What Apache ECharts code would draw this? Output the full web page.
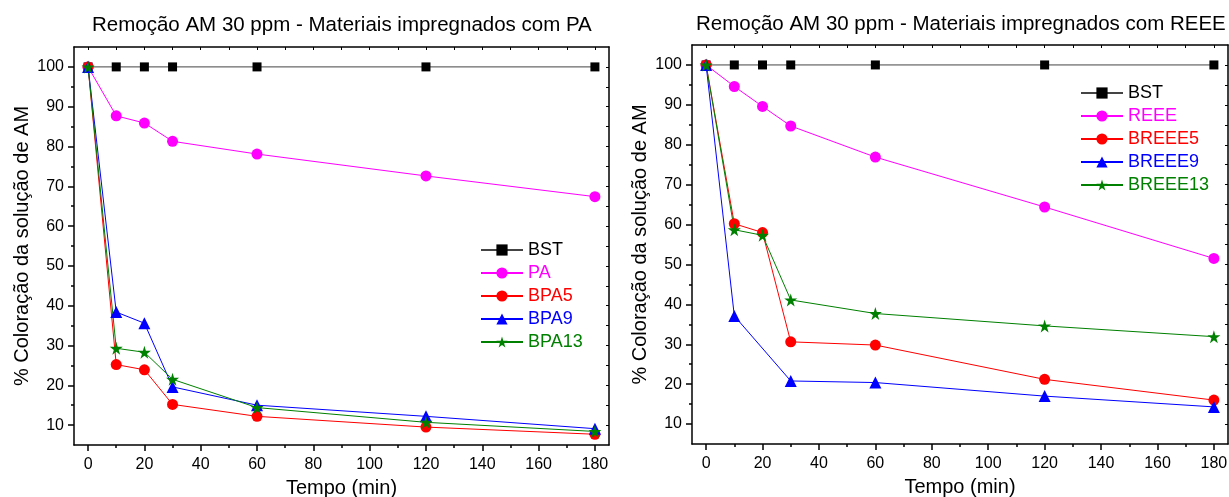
<!DOCTYPE html>
<html>
<head>
<meta charset="utf-8">
<script src="https://cdn.jsdelivr.net/npm/echarts@6/dist/echarts.min.js"></script>
<style>
  html, body { margin: 0; padding: 0; background: #fff; }
  #main { width: 1229px; height: 497px; }
</style>
</head>
<body>
<div id="main"></div>
<script>
// sampling times (min), shared by both panels
const times = [0, 10, 20, 30, 60, 120, 180]
const xLabels = [0, 20, 40, 60, 80, 100, 120, 140, 160, 180]
const yLabels = [10, 20, 30, 40, 50, 60, 70, 80, 90, 100]

// left panel - PA
const bstPA = [100, 100, 100, 100, 100, 100, 100]
const pa = [100, 87.7, 85.9, 81.3, 78.1, 72.6, 67.4]
const bpa5 = [100, 25.2, 23.9, 15.2, 12.2, 9.5, 7.7]
const bpa9 = [100, 38.4, 35.6, 19.6, 15.0, 12.2, 9.1]
const bpa13 = [100, 29.3, 28.3, 21.5, 14.4, 10.7, 8.4]

// right panel - REEE (BREEE9 has no 20 min point)
const bstREEE = [100, 100, 100, 100, 100, 100, 100]
const reee = [100, 94.6, 89.6, 84.7, 76.9, 64.4, 51.5]
const breee5 = [100, 60.2, 58.0, 30.6, 29.8, 21.2, 16.0]
const breee9 = [100, 37.1, null, 20.8, 20.4, 17.0, 14.3]
const breee13 = [100, 58.7, 57.3, 41.1, 37.7, 34.6, 31.9]

const STAR = 'path://M50,0 L61,35 L98,35 L68,57 L79,91 L50,70 L21,91 L32,57 L2,35 L39,35 Z'
const FONT = 'Liberation Sans'

function pairs(vals) {
  return times.map(function (t, i) { return [t, vals[i]] })
    .filter(function (p) { return p[1] != null })
}

function line(name, vals, color, lineColor, symbol, size, idx) {
  return {
    name: name,
    type: 'line',
    xAxisIndex: idx * 3,
    yAxisIndex: idx * 3,
    data: pairs(vals),
    symbol: symbol,
    symbolSize: size,
    connectNulls: true,
    itemStyle: { color: color },
    lineStyle: { color: lineColor, width: 1 },
    z: 3
  }
}

// 3 x axes per grid: main bottom, minor ticks, top border
function xAxes(gi) {
  const base = { gridIndex: gi, type: 'value', min: -5, max: 185, splitLine: { show: false } }
  return [
    Object.assign({}, base, {
      position: 'bottom',
      name: 'Tempo (min)',
      nameLocation: 'middle',
      nameGap: 33,
      nameTextStyle: { fontFamily: FONT, fontSize: 20, color: '#000' },
      axisLine: { onZero: false, lineStyle: { color: '#000', width: 1.5 } },
      axisTick: { customValues: xLabels, length: 6, lineStyle: { color: '#000', width: 1.5 } },
      axisLabel: { customValues: xLabels, margin: 12, fontFamily: FONT, fontSize: 16, color: '#000' }
    }),
    Object.assign({}, base, {
      position: 'bottom',
      axisLine: { show: false, onZero: false },
      axisTick: { customValues: [10, 30, 50, 70, 90, 110, 130, 150, 170], length: 3, lineStyle: { color: '#000', width: 1.5 } },
      axisLabel: { show: false }
    }),
    Object.assign({}, base, {
      position: 'top',
      axisLine: { onZero: false, lineStyle: { color: '#000', width: 1.5 } },
      axisTick: { inside: true, customValues: [0, 10, 20, 30, 40, 50, 60, 70, 80, 90, 100, 110, 120, 130, 140, 150, 160, 170, 180], length: 3, lineStyle: { color: '#000' } },
      axisLabel: { show: false }
    })
  ]
}

function yAxes(gi) {
  const base = { gridIndex: gi, type: 'value', min: 5, max: 105, splitLine: { show: false } }
  return [
    Object.assign({}, base, {
      position: 'left',
      name: '% Coloração da solução de AM',
      nameLocation: 'middle',
      nameGap: 42,
      nameTextStyle: { fontFamily: FONT, fontSize: 20, color: '#000' },
      axisLine: { onZero: false, lineStyle: { color: '#000', width: 1.5 } },
      axisTick: { customValues: yLabels, length: 6, lineStyle: { color: '#000', width: 1.5 } },
      axisLabel: { customValues: yLabels, margin: 10, fontFamily: FONT, fontSize: 16, color: '#000' }
    }),
    Object.assign({}, base, {
      position: 'left',
      axisLine: { show: false, onZero: false },
      axisTick: { customValues: [15, 25, 35, 45, 55, 65, 75, 85, 95], length: 3, lineStyle: { color: '#000', width: 1.5 } },
      axisLabel: { show: false }
    }),
    Object.assign({}, base, {
      position: 'right',
      axisLine: { onZero: false, lineStyle: { color: '#000', width: 1.5 } },
      axisTick: { inside: true, customValues: [10, 15, 20, 25, 30, 35, 40, 45, 50, 55, 60, 65, 70, 75, 80, 85, 90, 95, 100], length: 3, lineStyle: { color: '#000' } },
      axisLabel: { show: false }
    })
  ]
}

function legend(names, colors, left, top) {
  return {
    orient: 'vertical',
    left: left,
    top: top,
    itemWidth: 42,
    itemHeight: 14,
    itemGap: 5,
    textStyle: { fontFamily: FONT, fontSize: 18, lineHeight: 18 },
    data: names.map(function (n, i) {
      return { name: n, textStyle: { color: colors[i], fontSize: 18, lineHeight: 18 } }
    })
  }
}

const colors = ['#000', '#ff00ff', '#ff0000', '#0000ff', '#008000']

const option = {
  backgroundColor: '#fff',
  animation: false,
  title: [
    { text: 'Remoção AM 30 ppm - Materiais impregnados com PA', left: 87, top: 10,
      textStyle: { fontFamily: FONT, fontSize: 20.5, fontWeight: 'normal', color: '#000' } },
    { text: 'Remoção AM 30 ppm - Materiais impregnados com REEE', left: 691, top: 9,
      textStyle: { fontFamily: FONT, fontSize: 20.5, fontWeight: 'normal', color: '#000' } }
  ],
  legend: [
    legend(['BST', 'PA', 'BPA5', 'BPA9', 'BPA13'], colors, 475, 236),
    legend(['BST', 'REEE', 'BREEE5', 'BREEE9', 'BREEE13'], colors, 1075, 79)
  ],
  // outerBoundsMode none: keep the grid boxes exactly where they are in the picture
  grid: [
    { left: 74, top: 47, width: 535, height: 398, outerBoundsMode: 'none' },
    { left: 692, top: 45, width: 536, height: 399, outerBoundsMode: 'none' }
  ],
  xAxis: xAxes(0).concat(xAxes(1)),
  yAxis: yAxes(0).concat(yAxes(1)),
  series: [
    line('BST', bstPA, '#000', '#444', 'rect', 9, 0),
    line('PA', pa, '#ff00ff', '#ff00ff', 'circle', 11, 0),
    line('BPA5', bpa5, '#ff0000', '#ff0000', 'circle', 11, 0),
    line('BPA9', bpa9, '#0000ff', '#0000ff', 'triangle', 12, 0),
    line('BPA13', bpa13, '#008000', '#008000', STAR, 13, 0),
    line('BST', bstREEE, '#000', '#444', 'rect', 9, 1),
    line('REEE', reee, '#ff00ff', '#ff00ff', 'circle', 11, 1),
    line('BREEE5', breee5, '#ff0000', '#ff0000', 'circle', 11, 1),
    line('BREEE9', breee9, '#0000ff', '#0000ff', 'triangle', 12, 1),
    line('BREEE13', breee13, '#008000', '#008000', STAR, 13, 1)
  ]
}

const chart = echarts.init(document.getElementById('main'))
chart.setOption(option)
</script>
</body>
</html>
